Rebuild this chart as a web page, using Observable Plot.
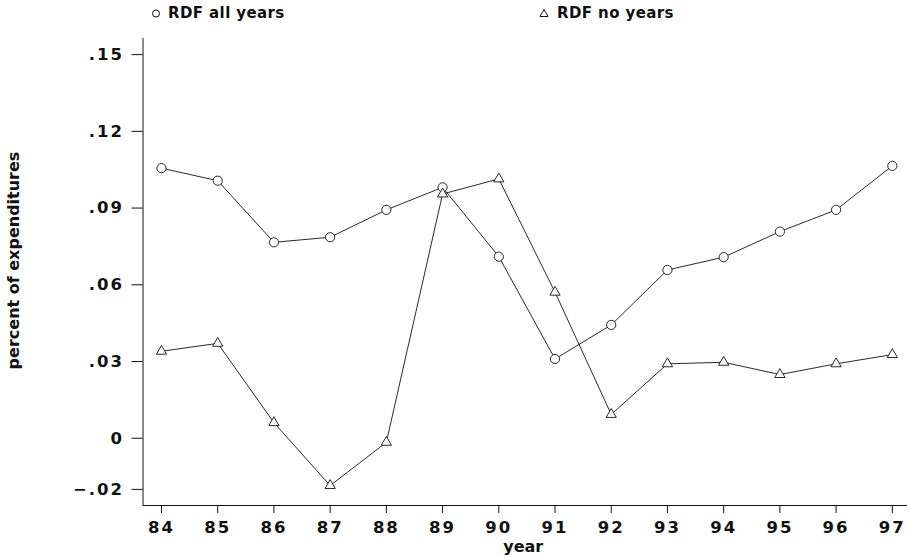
<!DOCTYPE html>
<html>
<head>
<meta charset="utf-8">
<script src="https://cdn.jsdelivr.net/npm/d3@7"></script>
<script src="https://cdn.jsdelivr.net/npm/@observablehq/plot@0.6"></script>
<style>
  body { margin: 0; background: #fff; }
  #wrap { position: relative; width: 910px; height: 557px; overflow: hidden; }
  #legend { position: relative; width: 910px; height: 30px; font-family: "DejaVu Sans", sans-serif; font-weight: bold; font-size: 15px; color: #111; }
  .item { position: absolute; top: 4px; line-height: 18px; white-space: nowrap; letter-spacing: 0.4px; }
  .sym { position: absolute; top: 0; }
  svg.chart text { font-family: "DejaVu Sans", sans-serif; font-weight: bold; font-size: 16px; fill: #111; }
  g[aria-label$="tick label"] text { letter-spacing: 2px; font-size: 16.5px; }
</style>
</head>
<body>
<div id="wrap">
  <div id="legend"></div>
  <div id="chart"></div>
</div>
<script>
// ---- data ----
const years = [84, 85, 86, 87, 88, 89, 90, 91, 92, 93, 94, 95, 96, 97];
const rdfAllYears = [0.1056, 0.1007, 0.0766, 0.0786, 0.0893, 0.0981, 0.0710, 0.0310, 0.0443, 0.0658, 0.0708, 0.0808, 0.0893, 0.1065];
const rdfNoYears  = [0.0340, 0.0371, 0.0061, -0.0185, -0.0016, 0.0955, 0.1014, 0.0571, 0.0093, 0.0291, 0.0297, 0.0249, 0.0291, 0.0327];
const seriesNames = ["RDF all years", "RDF no years"];
const yTicks = [-0.02, 0, 0.03, 0.06, 0.09, 0.12, 0.15];
const yLabel = "percent of expenditures";
const xLabel = "year";

const xDomain = [83.671, 97.27];
const yDomain = [-0.0263, 0.1563];

const allData = years.map((yr, i) => ({year: yr, value: rdfAllYears[i], series: seriesNames[0]}));
const noData = years.map((yr, i) => ({year: yr, value: rdfNoYears[i], series: seriesNames[1]}));
const data = allData.concat(noData);

const fmtY = d => d === 0 ? "0" : d3.format(".2f")(d).replace("0.", ".");

// ---- legend (HTML) ----
const legend = document.getElementById("legend");
const legendItems = [
  {name: seriesNames[0], sym: "circle", symX: 151, textX: 168},
  {name: seriesNames[1], sym: "triangle", symX: 539, textX: 557}
];
for (const it of legendItems) {
  const s = document.createElementNS("http://www.w3.org/2000/svg", "svg");
  s.setAttribute("width", 10); s.setAttribute("height", 30);
  s.setAttribute("class", "sym");
  s.style.left = it.symX + "px";
  const g = it.sym === "circle"
    ? `<circle cx="5" cy="13.5" r="3.5" fill="none" stroke="#111" stroke-width="1"/>`
    : `<path d="M5,9.5 L9,16.5 L1,16.5 Z" fill="none" stroke="#111" stroke-width="1"/>`;
  s.innerHTML = g;
  legend.appendChild(s);
  const t = document.createElement("span");
  t.className = "item";
  t.style.left = it.textX + "px";
  t.textContent = it.name;
  legend.appendChild(t);
}

// ---- chart ----
const chart = Plot.plot({
  width: 910,
  height: 527,
  marginTop: 8,
  marginBottom: 52,
  marginLeft: 142.5,
  marginRight: 3,
  className: "chart",
  style: {background: "#fff", color: "#111", overflow: "visible"},
  x: {domain: xDomain, ticks: years, tickFormat: d => String(d), tickSize: 8, tickPadding: 8, label: null},
  y: {domain: yDomain, ticks: yTicks, tickFormat: fmtY, tickSize: 11, tickPadding: 8, label: null},
  marks: [
    Plot.ruleX([xDomain[0]], {stroke: "#111", strokeWidth: 1}),
    Plot.ruleY([yDomain[0]], {stroke: "#111", strokeWidth: 1}),
    Plot.line(data, {x: "year", y: "value", z: "series", stroke: "#111", strokeWidth: 0.9}),
    Plot.dot(allData, {x: "year", y: "value", r: 4.6, stroke: "#111", fill: "white", strokeWidth: 0.9}),
    Plot.dot(noData, {x: "year", y: "value", r: 3.8, symbol: "triangle", stroke: "#111", fill: "white", strokeWidth: 0.9}),
    Plot.text([yLabel], {frameAnchor: "left", textAnchor: "middle", lineAnchor: "middle", dx: -129, dy: -11.5, rotate: -90, text: d => d}),
    Plot.text([xLabel], {frameAnchor: "bottom", textAnchor: "middle", dx: -2, dy: 46, text: d => d})
  ]
});
document.getElementById("chart").appendChild(chart);
</script>
</body>
</html>
